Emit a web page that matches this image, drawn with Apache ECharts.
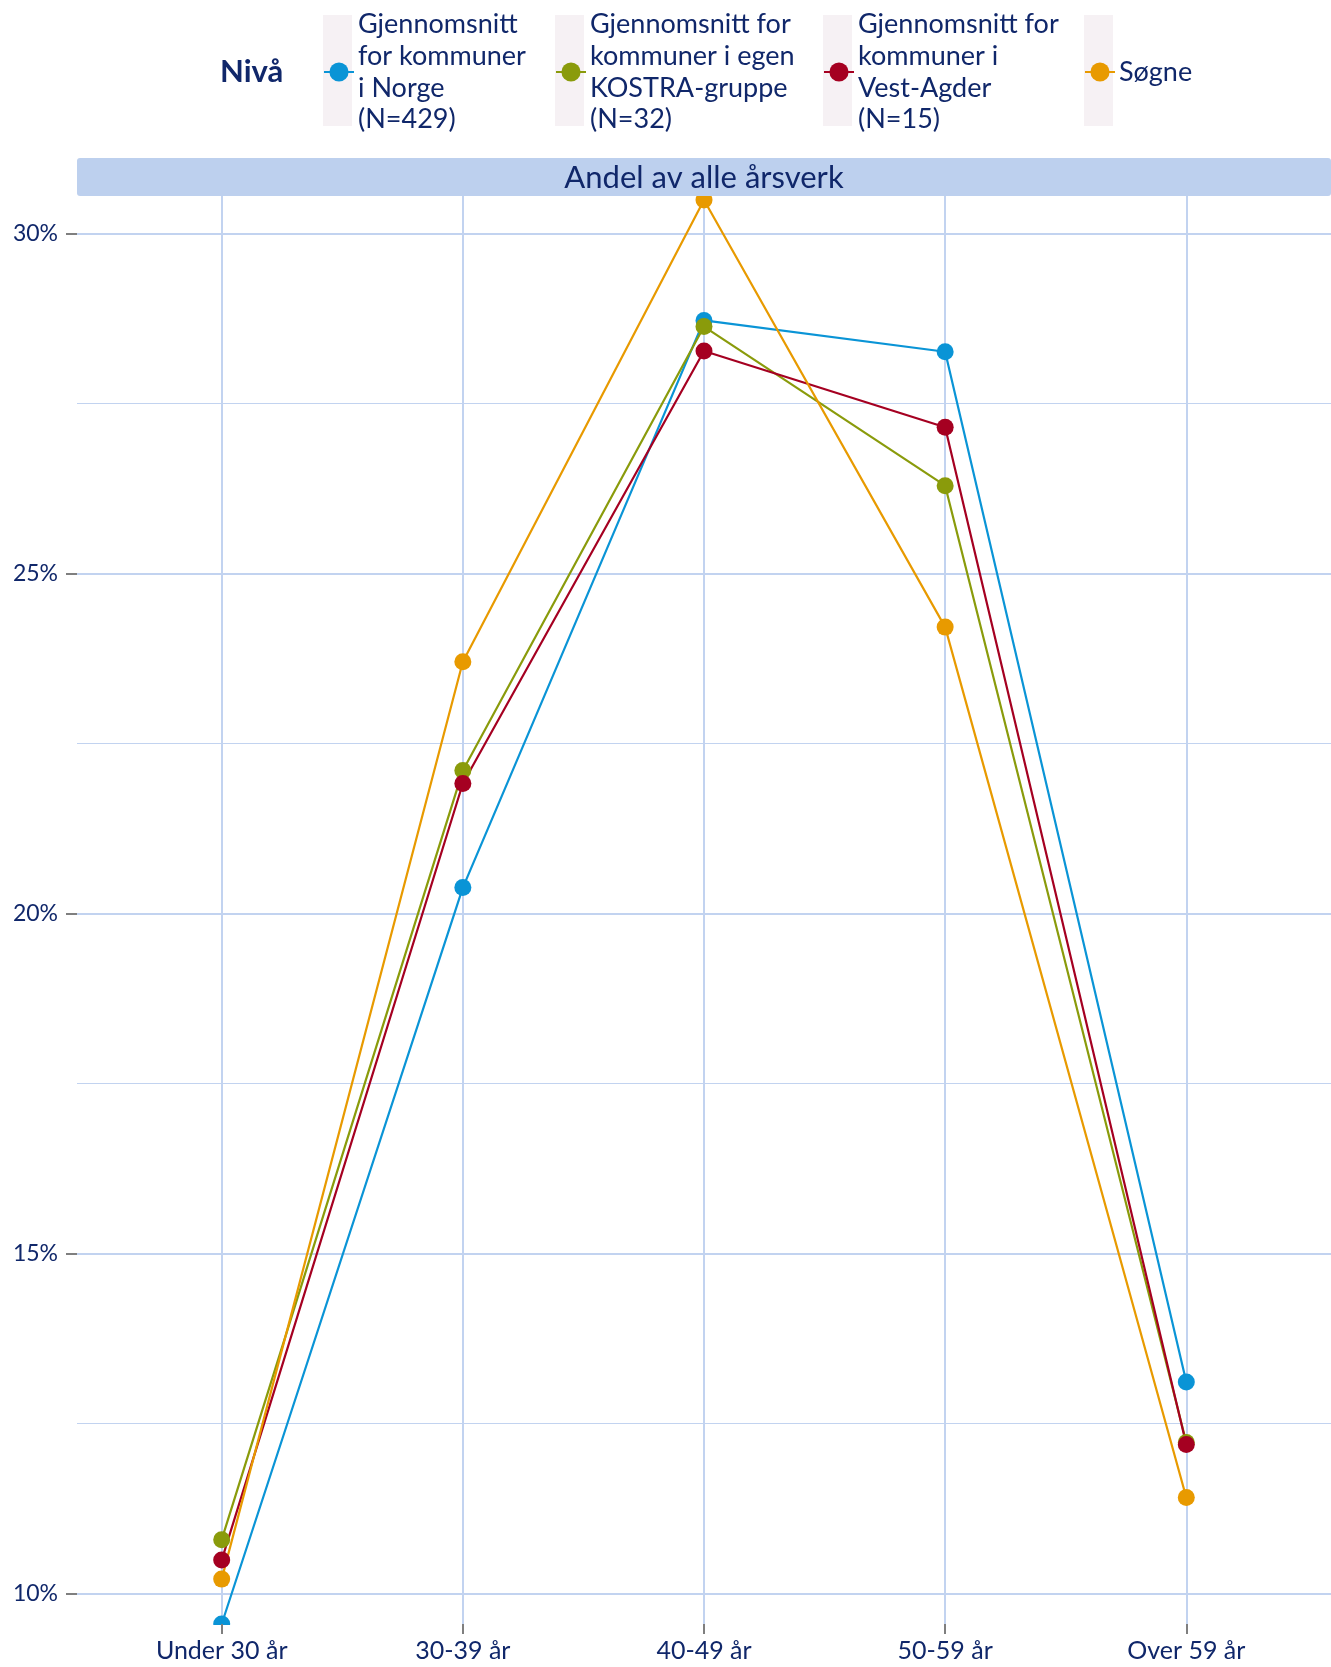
<!DOCTYPE html>
<html>
<head>
<meta charset="utf-8">
<script src="https://cdn.jsdelivr.net/npm/echarts@6/dist/echarts.min.js"></script>
<style>
  html, body { margin: 0; padding: 0; background: #ffffff; }
  #chart { width: 1331px; height: 1667px; }
</style>
</head>
<body>
<div id="chart"></div>
<script>
// Age groups on the x axis
const categories = ['Under 30 år', '30-39 år', '40-49 år', '50-59 år', 'Over 59 år'];

// Series names (legend text, wrapped as in the legend)
const seriesNames = [
  'Gjennomsnitt\nfor kommuner\ni Norge\n(N=429)',
  'Gjennomsnitt for\nkommuner i egen\nKOSTRA-gruppe\n(N=32)',
  'Gjennomsnitt for\nkommuner i\nVest-Agder\n(N=15)',
  'Søgne'
];

// Share of all man-years (%) per age group
const norge     = [9.55, 20.38, 28.72, 28.26, 13.11];
const kostra    = [10.79, 22.10, 28.63, 26.29, 12.22];
const vestAgder = [10.49, 21.91, 28.27, 27.15, 12.19];
const sogne     = [10.21, 23.70, 30.49, 24.21, 11.41];

// Y axis ticks
const majorTicks = [10, 15, 20, 25, 30];
const minorTicks = [12.5, 17.5, 22.5, 27.5];

const panelTitle = 'Andel av alle årsverk';
const legendTitle = 'Nivå';

const seriesValues = [norge, kostra, vestAgder, sogne];
const colors = ['#0a94d6', '#8a9b0b', '#a50021', '#e89a00'];

const FONT = 'Lato, "Noto Sans", sans-serif';
const NAVY = '#10276a';
const GRID = '#c2d3f0';
const TICK = '#7f7f7f';

// Panel geometry
const plot = { left: 77, right: 0, top: 196, bottom: 43 };
const W = 1331;
const legendCenterY = 72;
const legendLineH = 31.6;
const legendKeyX = [323, 555, 823, 1084];

const chart = echarts.init(document.getElementById('chart'), null, { renderer: 'canvas' });

const catIdx = categories.map((_, i) => i);

const option = {
  backgroundColor: '#ffffff',
  animation: false,
  grid: { left: plot.left, right: plot.right, top: plot.top, bottom: plot.bottom, containLabel: false },
  xAxis: [
    {
      // vertical grid lines
      type: 'value', min: -0.6, max: 4.6, position: 'bottom',
      axisLine: { show: false, onZero: false },
      axisTick: { show: false, customValues: catIdx },
      axisLabel: { show: false, customValues: catIdx },
      splitLine: { show: true, lineStyle: { color: GRID, width: 2 } }
    },
    {
      // ticks and category labels, drawn above the clipping band
      type: 'value', min: -0.6, max: 4.6, position: 'bottom', z: 110,
      axisLine: { show: false, onZero: false },
      axisTick: { show: true, customValues: catIdx, length: 10, lineStyle: { color: TICK, width: 2 } },
      axisLabel: {
        show: true, customValues: catIdx, margin: 14,
        formatter: v => categories[Math.round(v)],
        color: NAVY, fontSize: 25, fontFamily: FONT
      },
      splitLine: { show: false }
    }
  ],
  yAxis: [
    {
      type: 'value', min: 9.55, max: 30.55, position: 'left',
      axisLine: { show: false, onZero: false },
      axisTick: { show: true, customValues: majorTicks, length: 11, lineStyle: { color: TICK, width: 2 } },
      axisLabel: {
        show: true, customValues: majorTicks, margin: 19,
        formatter: v => v + '%', color: NAVY, fontSize: 23, fontFamily: FONT
      },
      splitLine: { show: true, lineStyle: { color: GRID, width: 2 } }
    },
    {
      type: 'value', min: 9.55, max: 30.55, position: 'left',
      axisLine: { show: false, onZero: false },
      axisTick: { show: false, customValues: minorTicks },
      axisLabel: { show: false, customValues: minorTicks },
      splitLine: { show: true, lineStyle: { color: GRID, width: 1.2 } }
    }
  ],
  legend: seriesNames.map((name, i) => {
    const lines = name.split('\n').length;
    return {
      data: [name],
      left: legendKeyX[i],
      top: legendCenterY - lines * legendLineH / 2,
      padding: 0,
      itemWidth: 30,
      itemHeight: 24,
      itemGap: 0,
      selectedMode: false,
      textStyle: { color: NAVY, fontSize: 27, lineHeight: legendLineH, fontFamily: FONT, padding: [0, 0, 0, -1] }
    };
  }),
  series: seriesNames.map((name, i) => ({
    name: name,
    type: 'line',
    xAxisIndex: 0,
    yAxisIndex: 0,
    data: seriesValues[i].map((v, j) => [j, v]),
    symbol: 'circle',
    symbolSize: 17,
    clip: true,
    color: colors[i],
    itemStyle: { color: colors[i] },
    lineStyle: { color: colors[i], width: 2.2 },
    emphasis: { disabled: true }
  })),
  graphic: [
    // legend key backgrounds
    ...legendKeyX.map(x => ({
      type: 'rect', z: 0,
      shape: { x: x, y: 15, width: 29, height: 111 },
      style: { fill: '#f6f1f4' }
    })),
    {
      type: 'text', z: 10,
      style: {
        text: legendTitle, x: 220, y: legendCenterY,
        verticalAlign: 'middle', align: 'left',
        font: 'bold 31px ' + FONT, fill: NAVY
      }
    },
    // facet strip
    {
      type: 'rect', z: 100,
      shape: { x: plot.left, y: 158, width: W - plot.left - plot.right, height: plot.top - 158, r: 3 },
      style: { fill: '#bdd0ee' }
    },
    {
      type: 'text', z: 101,
      style: {
        text: panelTitle, x: (plot.left + W - plot.right) / 2, y: (158 + plot.top) / 2 + 1,
        align: 'center', verticalAlign: 'middle',
        font: '31px ' + FONT, fill: NAVY
      }
    },
    // band under the panel so marks stop at the panel edge
    {
      type: 'rect', z: 100,
      shape: { x: plot.left - 2, y: 1667 - plot.bottom + 1, width: W, height: 13 },
      style: { fill: '#ffffff' }
    }
  ]
};

chart.setOption(option);
</script>
</body>
</html>
